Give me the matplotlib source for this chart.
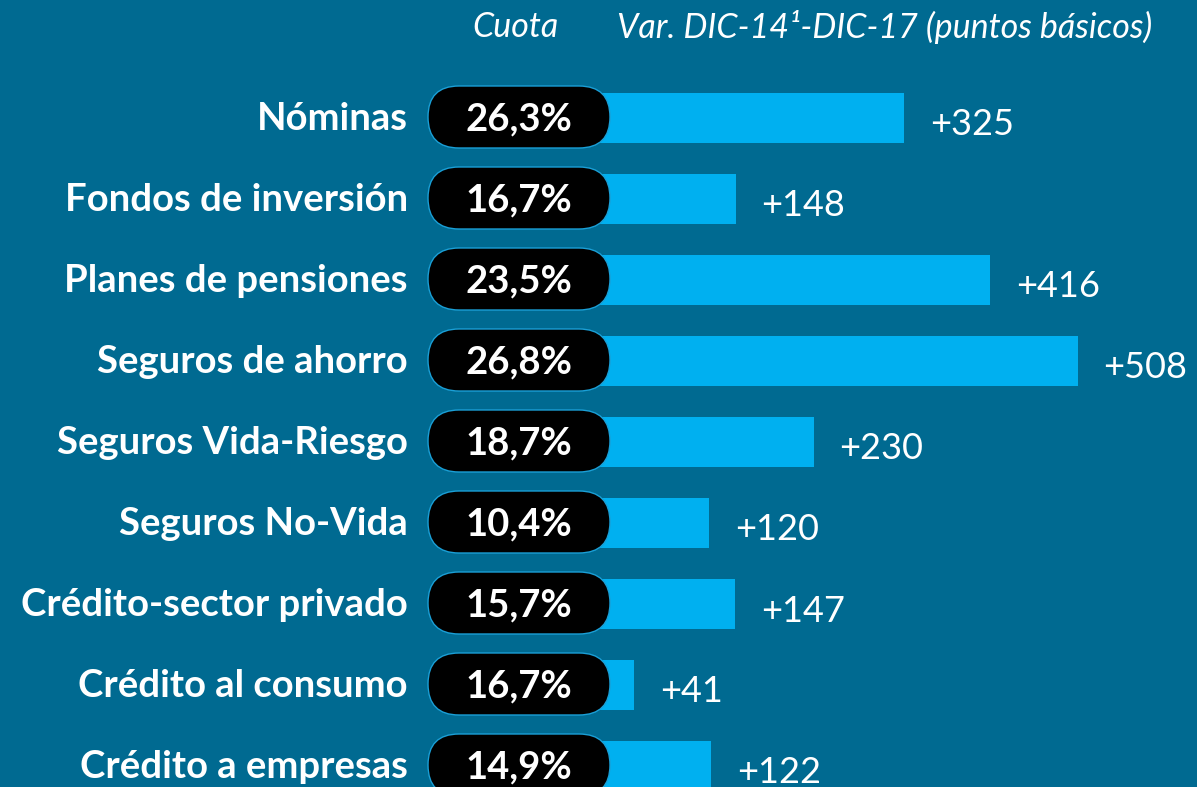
import matplotlib.pyplot as plt
from matplotlib.patches import FancyBboxPatch

# ---- DATA ----
categorias = ["Nóminas", "Fondos de inversión", "Planes de pensiones",
              "Seguros de ahorro", "Seguros Vida-Riesgo", "Seguros No-Vida",
              "Crédito-sector privado", "Crédito al consumo", "Crédito a empresas"]
cuota = ["26,3%", "16,7%", "23,5%", "26,8%", "18,7%", "10,4%", "15,7%", "16,7%", "14,9%"]
variacion = [325, 148, 416, 508, 230, 120, 147, 41, 122]

fondo = "#006a91"
azul = "#00b0f0"

plt.rcParams['font.family'] = ['Lato', 'DejaVu Sans']

# ---- LAYOUT (pixels) ----
W, H = 1197, 787
px_x = 0.95      # pixels per basis point
x0 = 595         # pixel where bars start
row_h = 81       # pixels between rows
y_first = 118    # pixel centre of first row

fig = plt.figure(figsize=(W / 100, H / 100), dpi=100)
fig.patch.set_facecolor(fondo)
ax = fig.add_axes([0, 0, 1, 1])
ax.set_facecolor(fondo)
ax.set_xlim(-x0 / px_x, (W - x0) / px_x)
ax.set_ylim((H - y_first) / row_h, -y_first / row_h)
ax.axis('off')

def ux(px):
    return px / px_x

def uy(px):
    return px / row_h

filas = list(range(len(categorias)))
ax.barh(filas, variacion, height=uy(50), color=azul, zorder=1)

for i, (cat, c, v) in enumerate(zip(categorias, cuota, variacion)):
    pill = FancyBboxPatch((ux(428 - x0), i - uy(32)), ux(182), uy(62),
                          boxstyle=f"round,pad=0,rounding_size={ux(31)}",
                          mutation_aspect=px_x / row_h,
                          facecolor="black", edgecolor="#1a9fd6", lw=1, zorder=2)
    ax.add_patch(pill)
    ax.text(ux(519 - x0), i + uy(1), c, color="white", fontsize=27.5,
            fontweight="bold", ha="center", va="center", zorder=3)
    ax.text(ux(408 - x0), i + uy(1), cat, color="white", fontsize=27.5,
            fontweight="bold", ha="right", va="center")
    ax.text(v + ux(26), i + uy(7), f"+{v}", color="white", fontsize=26,
            ha="left", va="center")

ax.text(ux(515 - x0), uy(27 - y_first), "Cuota", color="white", fontsize=24.5,
        style="italic", ha="center", va="center")
ax.text(ux(617 - x0), uy(27 - y_first), "Var. DIC-14¹-DIC-17 (puntos básicos)",
        color="white", fontsize=24.5, style="italic", ha="left", va="center")

plt.savefig("out.png", dpi=100, facecolor=fondo)
